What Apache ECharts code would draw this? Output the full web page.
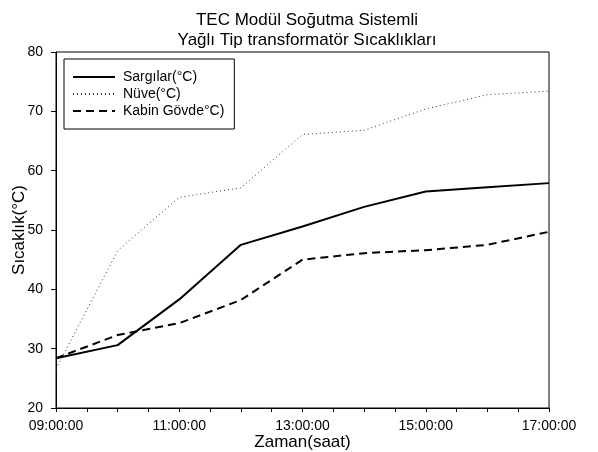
<!DOCTYPE html>
<html>
<head>
<meta charset="utf-8">
<script src="https://cdn.jsdelivr.net/npm/echarts@6/dist/echarts.min.js"></script>
<style>
  html, body { margin: 0; padding: 0; background: #fff; }
  #chart { width: 598px; height: 452px; }
</style>
</head>
<body>
<div id="chart"></div>
<script>
// saat (hour of day)
const hours = [9, 10, 11, 12, 13, 14, 15, 16, 17];
const sargilar = [28.4, 30.6, 38.3, 47.5, 50.6, 53.9, 56.5, 57.2, 57.9];
const nuve = [26.6, 46.5, 55.5, 57.1, 66.1, 66.8, 70.4, 72.8, 73.4];
const kabin = [28.4, 32.3, 34.3, 38.2, 45.0, 46.1, 46.6, 47.5, 49.7];
const yTicks = [20, 30, 40, 50, 60, 70, 80];

const pairs = (vals) => hours.map((h, i) => [h, vals[i]]);
const font = "Liberation Sans, Arial, sans-serif";

const chart = echarts.init(document.getElementById("chart"));

chart.setOption({
  animation: false,
  textStyle: { fontFamily: font },
  title: {
    text: "TEC Modül Soğutma Sistemli\nYağlı Tip transformatör Sıcaklıkları",
    left: 302,
    textAlign: "center",
    top: 5,
    textStyle: { fontSize: 17, fontWeight: "normal", color: "#000", lineHeight: 20, fontFamily: font },
  },
  grid: {
    left: 56,
    right: 49,
    top: 52,
    bottom: 44,
    outerBoundsMode: "none",
    show: true,
    borderColor: "#000",
    borderWidth: 1,
    backgroundColor: "transparent",
  },
  legend: {
    orient: "vertical",
    left: 64,
    top: 59,
    padding: [11, 10, 11, 8],
    itemGap: 3,
    itemWidth: 42,
    itemHeight: 14,
    borderColor: "#000",
    borderWidth: 1,
    itemStyle: { opacity: 0 },
    textStyle: { fontSize: 14, color: "#000", fontFamily: font, padding: [0, 0, 0, 3] },
    data: ["Sargılar(°C)", "Nüve(°C)", "Kabin Gövde°C)"],
  },
  xAxis: {
    type: "value",
    min: 9,
    max: 17,
    interval: 2,
    name: "Zaman(saat)",
    nameLocation: "middle",
    nameMoveOverlap: false,
    nameGap: 26,
    nameTextStyle: { fontSize: 17, color: "#000", fontFamily: font },
    axisLine: { lineStyle: { color: "#000", width: 1 } },
    axisTick: { length: 4, lineStyle: { color: "#000" } },
    minorTick: { show: true, splitNumber: 4, length: 4, lineStyle: { color: "#000" } },
    splitLine: { show: false },
    axisLabel: {
      fontSize: 14,
      color: "#000",
      margin: 11,
      formatter: (v) => String(v).padStart(2, "0") + ":00:00",
    },
  },
  yAxis: {
    type: "value",
    min: yTicks[0],
    max: yTicks[yTicks.length - 1],
    interval: 10,
    name: "Sıcaklık(°C)",
    nameLocation: "middle",
    nameMoveOverlap: false,
    nameGap: 28,
    nameTextStyle: { fontSize: 17, color: "#000", fontFamily: font },
    axisLine: { show: true, lineStyle: { color: "#000", width: 1 } },
    axisTick: { show: true, length: 5, lineStyle: { color: "#000" } },
    splitLine: { show: false },
    axisLabel: { fontSize: 14, color: "#000", margin: 13 },
  },
  series: [
    {
      name: "Sargılar(°C)",
      type: "line",
      data: pairs(sargilar),
      symbol: "none",
      lineStyle: { color: "#000", width: 2, type: "solid" },
      itemStyle: { color: "#000" },
    },
    {
      name: "Nüve(°C)",
      type: "line",
      data: pairs(nuve),
      symbol: "none",
      lineStyle: { color: "#333", width: 1, type: [1, 3] },
      itemStyle: { color: "#333" },
    },
    {
      name: "Kabin Gövde°C)",
      type: "line",
      data: pairs(kabin),
      symbol: "none",
      lineStyle: { color: "#000", width: 2, type: [8, 5] },
      itemStyle: { color: "#000" },
    },
  ],
});
</script>
</body>
</html>
